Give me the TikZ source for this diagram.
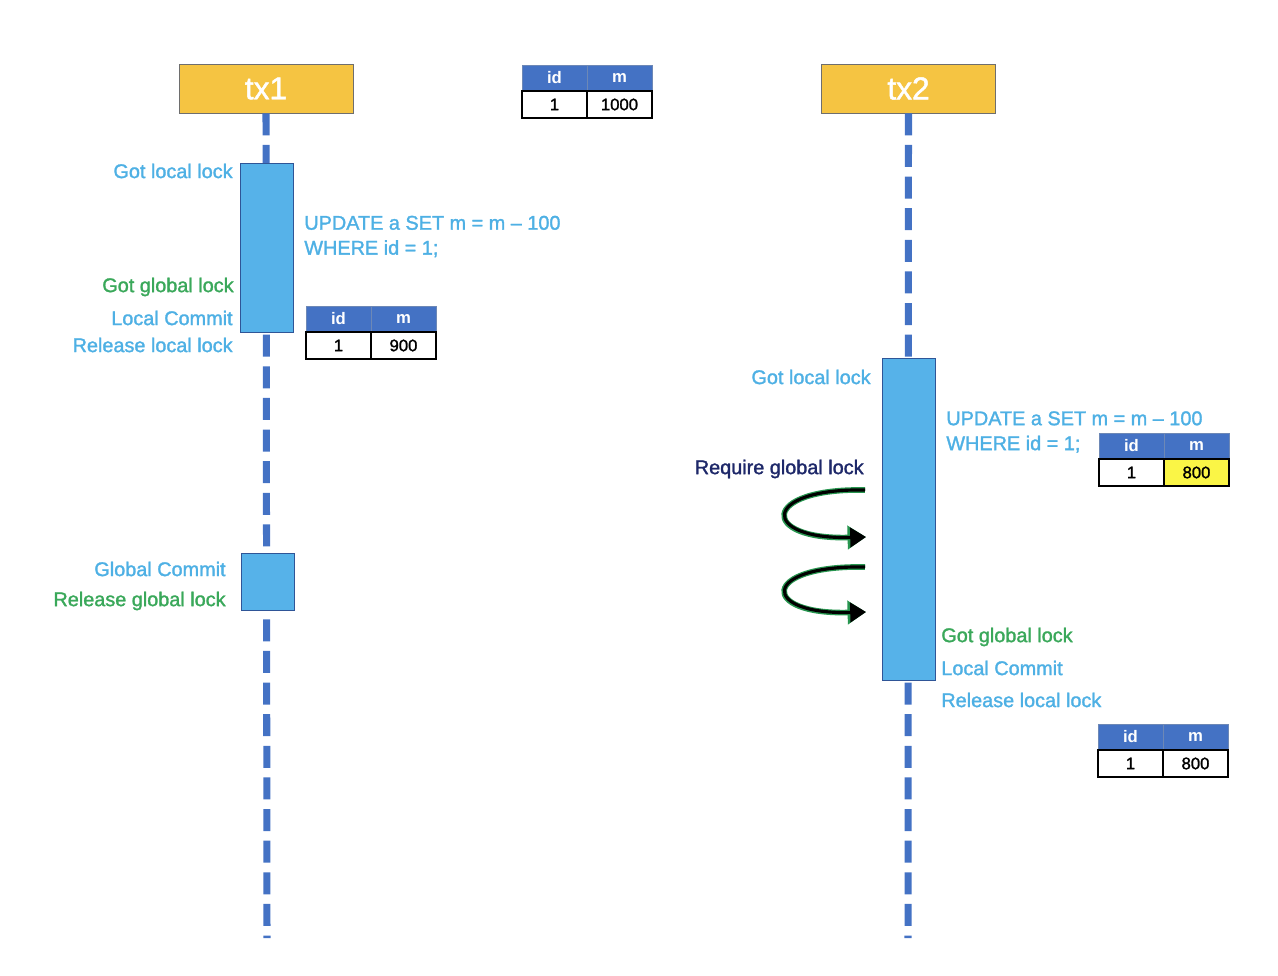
\documentclass[tikz,border=0pt]{standalone}
\usepackage{fontspec}
\setmainfont{Liberation Sans}
\newfontfamily\medfont{Liberation Sans}[FakeBold=1.5]
\usetikzlibrary{arrows.meta,positioning}

\definecolor{hdrfill}{RGB}{245,196,66}
\definecolor{hdrline}{RGB}{110,110,110}
\definecolor{lifeblue}{RGB}{68,114,196}
\definecolor{actfill}{RGB}{86,178,233}
\definecolor{actline}{RGB}{47,85,151}
\definecolor{cellblue}{RGB}{68,114,196}
\definecolor{cellyellow}{RGB}{250,245,70}
\definecolor{locblue}{RGB}{78,176,228}
\definecolor{lockgreen}{RGB}{58,168,90}
\definecolor{navy}{RGB}{30,40,105}
\definecolor{glow}{RGB}{40,150,80}

\begin{document}
\begin{tikzpicture}[
  x=0.02cm, y=-0.02cm,
  txbox/.style = {draw=hdrline, fill=hdrfill, minimum width=3.48cm, minimum height=0.98cm, text=white, font=\fontsize{18}{20}\selectfont\medfont},
  life/.style = {draw=lifeblue, line width=4pt, dash pattern=on 12.5pt off 5.5pt},
  act/.style = {draw=actline, fill=actfill, minimum width=1.06cm, inner sep=0pt},
  hcell/.style = {draw=actline!70, fill=cellblue, text=white, minimum width=1.3cm, minimum height=0.52cm, inner sep=0pt, outer sep=0pt, font=\fontsize{9.5}{11}\selectfont\bfseries},
  vcell/.style = {draw=black, fill=white, line width=0.8pt, minimum width=1.3cm, minimum height=0.54cm, inner sep=0pt, outer sep=0pt, font=\fontsize{9.5}{11}\selectfont\medfont},
  lbl/.style = {inner sep=0pt, font=\fontsize{11.3}{14.2}\selectfont\medfont},
  waitarr/.style = {-{Triangle[length=9pt,width=11pt]}, line width=1.8pt, black,
    preaction={draw=glow, line width=3.2pt, -{Triangle[length=10.5pt,width=13pt]}}}
]
\useasboundingbox (0,0) rectangle (1278,976);

\node[txbox] (tx1) at (266,88.5) {tx1};
\node[txbox] (tx2) at (908.5,88.5) {tx2};
\coordinate (tx1end) at (267,938);
\coordinate (tx2end) at (908,938);
\draw[life] (tx1.south) -- (tx1end);
\draw[life] (tx2.south) -- (tx2end);

\node[act, minimum height=3.38cm] (lock1) at (266.5,247.5) {};
\node[act, minimum height=1.14cm] (commit1) at (267.5,581.5) {};
\node[act, minimum height=6.44cm] (lock2) at (908.5,519) {};

\node[hcell, anchor=north west] (t0id) at (522,65) {id};
\node[hcell, right=0pt of t0id] (t0m) {m};
\node[vcell, below=0pt of t0id] (t0a) {1};
\node[vcell, below=0pt of t0m] (t0b) {1000};

\node[hcell, anchor=north west] (t1id) at (306,306) {id};
\node[hcell, right=0pt of t1id] (t1m) {m};
\node[vcell, below=0pt of t1id] (t1a) {1};
\node[vcell, below=0pt of t1m] (t1b) {900};

\node[hcell, anchor=north west] (t2id) at (1099,433) {id};
\node[hcell, right=0pt of t2id] (t2m) {m};
\node[vcell, below=0pt of t2id] (t2a) {1};
\node[vcell, below=0pt of t2m, fill=cellyellow] (t2b) {800};

\node[hcell, anchor=north west] (t3id) at (1098,724) {id};
\node[hcell, right=0pt of t3id] (t3m) {m};
\node[vcell, below=0pt of t3id] (t3a) {1};
\node[vcell, below=0pt of t3m] (t3b) {800};

\node[lbl, text=locblue, anchor=east] (gotlocal1) at (233,171) {Got local lock};
\node[lbl, text=locblue, anchor=west, align=left] (sql1) at (304,236.5) {UPDATE a SET m = m – 100\\WHERE id = 1;};
\node[lbl, text=lockgreen, anchor=east] (gotglobal1) at (234,287) {Got global lock};
\node[lbl, text=locblue, anchor=east] (localcommit1) at (233,318) {Local Commit};
\node[lbl, text=locblue, anchor=east] (release1) at (233,345) {Release local lock};
\node[lbl, text=locblue, anchor=east] (globalcommit) at (226,569) {Global Commit};
\node[lbl, text=lockgreen, anchor=east] (releaseglobal) at (226,601) {Release global lock};

\node[lbl, text=locblue, anchor=east] (gotlocal2) at (871,377) {Got local lock};
\node[lbl, text=locblue, anchor=west, align=left] (sql2) at (946,432) {UPDATE a SET m = m – 100\\WHERE id = 1;};
\node[lbl, text=navy, anchor=east] (require) at (864,469) {Require global lock};
\node[lbl, text=lockgreen, anchor=west] (gotglobal2) at (941,637) {Got global lock};
\node[lbl, text=locblue, anchor=west] (localcommit2) at (941,668) {Local Commit};
\node[lbl, text=locblue, anchor=west] (release2) at (941,700) {Release local lock};

\coordinate (w1s) at (865,490);
\coordinate (w1e) at (866,537);
\coordinate (w2s) at (865,567);
\coordinate (w2e) at (866,612);
\draw[waitarr] (w1s) .. controls (760,488) and (760,540) .. (w1e);
\draw[waitarr] (w2s) .. controls (760,565) and (760,615) .. (w2e);
\end{tikzpicture}
\end{document}
